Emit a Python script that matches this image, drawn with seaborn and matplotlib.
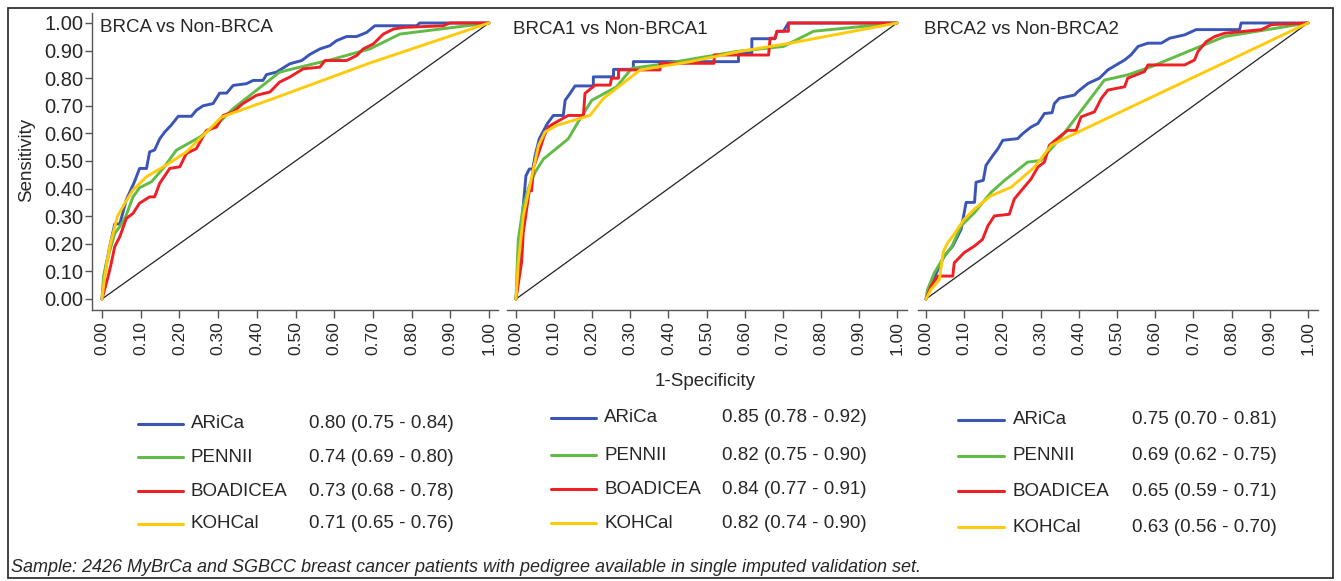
import matplotlib
matplotlib.use("Agg")
import matplotlib.pyplot as plt
from matplotlib.lines import Line2D
from matplotlib.patches import Rectangle
import seaborn as sns
import pandas as pd
import numpy as np

# ---------------- data ----------------
MODELS = ["ARiCa", "PENNII", "BOADICEA", "KOHCal"]
COLORS = ["#3a55b6", "#62bb46", "#ee2026", "#fdcb0c"]
PANEL_TITLES = ["BRCA vs Non-BRCA", "BRCA1 vs Non-BRCA1", "BRCA2 vs Non-BRCA2"]
TICKS = [0.0, 0.1, 0.2, 0.3, 0.4, 0.5, 0.6, 0.7, 0.8, 0.9, 1.0]
TICK_LABELS = ["0.00", "0.10", "0.20", "0.30", "0.40", "0.50", "0.60", "0.70", "0.80", "0.90", "1.00"]
DIAG = [0.0, 1.0]

AUC_P1 = ["0.80 (0.75 - 0.84)", "0.74 (0.69 - 0.80)", "0.73 (0.68 - 0.78)", "0.71 (0.65 - 0.76)"]
AUC_P2 = ["0.85 (0.78 - 0.92)", "0.82 (0.75 - 0.90)", "0.84 (0.77 - 0.91)", "0.82 (0.74 - 0.90)"]
AUC_P3 = ["0.75 (0.70 - 0.81)", "0.69 (0.62 - 0.75)", "0.65 (0.59 - 0.71)", "0.63 (0.56 - 0.70)"]

FOOTNOTE = "Sample: 2426 MyBrCa and SGBCC breast cancer patients with pedigree available in single imputed validation set."

# Panel 1: BRCA vs Non-BRCA
P1_ARICA_FPR = [0, .008, .020, .033, .046, .063, .084, .097, .115, .123, .136, .149, .162, .179, .197, .231, .244, .261, .287, .304, .322, .339, .373, .391, .416, .425, .451, .485, .516, .537, .563, .589, .606, .632, .658, .684, .705, .813, .821, 1]
P1_ARICA_TPR = [0, .100, .190, .272, .272, .360, .425, .473, .473, .533, .540, .580, .605, .630, .662, .662, .684, .700, .708, .746, .746, .774, .780, .792, .792, .813, .822, .852, .864, .886, .906, .918, .936, .951, .951, .966, .990, .990, 1.0, 1]
P1_PENN_FPR = [0, .004, .011, .033, .046, .061, .080, .097, .128, .158, .192, .253, .304, .339, .399, .459, .511, .589, .692, .770, 1]
P1_PENN_TPR = [0, .082, .130, .238, .262, .298, .370, .403, .425, .473, .539, .587, .641, .690, .756, .822, .840, .866, .906, .960, 1]
P1_BOAD_FPR = [0, .016, .024, .033, .046, .063, .080, .097, .123, .136, .149, .175, .201, .218, .244, .270, .296, .313, .339, .364, .399, .434, .459, .485, .520, .563, .576, .632, .658, .675, .701, .727, .753, .779, .882, .899, 1]
P1_BOAD_TPR = [0, .082, .130, .190, .226, .292, .310, .347, .370, .370, .419, .473, .479, .527, .545, .611, .623, .665, .678, .708, .738, .750, .786, .804, .834, .840, .864, .864, .882, .906, .924, .960, .978, .984, .990, 1.0, 1]
P1_KOH_FPR = [0, .007, .020, .040, .059, .080, .115, .166, .218, .270, .309, .450, .692, 1]
P1_KOH_TPR = [0, .082, .190, .300, .347, .395, .443, .485, .533, .605, .659, .730, .855, 1]

# Panel 2: BRCA1 vs Non-BRCA1
P2_ARICA_FPR = [0, .0105, .019, .026, .035, .044, .050, .061, .082, .098, .124, .129, .142, .155, .203, .203, .256, .256, .308, .308, .584, .584, .619, .619, .680, .685, .702, .715, 1]
P2_ARICA_TPR = [0, .167, .337, .446, .471, .471, .519, .580, .635, .665, .665, .720, .745, .772, .772, .805, .805, .832, .832, .860, .860, .891, .891, .943, .943, .970, .970, 1.0, 1]
P2_PENN_FPR = [0, .002, .006, .019, .035, .050, .072, .137, .163, .199, .264, .304, .370, .580, .702, .781, 1]
P2_PENN_TPR = [0, .080, .215, .337, .410, .459, .507, .580, .641, .720, .769, .836, .848, .897, .915, .970, 1]
P2_BOAD_FPR = [0, .015, .019, .026, .035, .041, .046, .063, .074, .085, .098, .137, .177, .181, .208, .247, .251, .269, .269, .378, .378, .520, .520, .663, .667, .680, .685, .715, .715, 1]
P2_BOAD_TPR = [0, .136, .240, .307, .392, .392, .477, .544, .592, .623, .635, .665, .665, .745, .775, .775, .800, .800, .830, .830, .854, .854, .884, .884, .945, .945, .970, .970, 1.0, 1]
P2_KOH_FPR = [0, .006, .019, .059, .076, .107, .194, .229, .326, .457, .588, .720, 1]
P2_KOH_TPR = [0, .130, .300, .556, .605, .629, .665, .726, .830, .860, .897, .927, 1]

# Panel 3: BRCA2 vs Non-BRCA2
P3_ARICA_FPR = [0, .009, .031, .048, .070, .092, .105, .127, .131, .150, .157, .175, .188, .201, .240, .253, .275, .293, .310, .330, .336, .349, .389, .397, .424, .454, .476, .498, .520, .537, .555, .581, .616, .638, .677, .707, .821, .825, 1]
P3_ARICA_TPR = [0, .034, .107, .156, .192, .253, .350, .350, .423, .430, .484, .520, .544, .575, .581, .599, .623, .636, .672, .675, .708, .727, .739, .751, .781, .800, .830, .848, .866, .885, .915, .927, .927, .945, .957, .976, .976, 1.0, 1]
P3_PENN_FPR = [0, .004, .022, .048, .066, .092, .127, .170, .205, .266, .301, .354, .467, .528, .590, .686, .782, 1]
P3_PENN_TPR = [0, .034, .095, .156, .186, .265, .313, .386, .429, .496, .502, .587, .793, .812, .842, .897, .951, 1]
P3_BOAD_FPR = [0, .013, .031, .070, .074, .100, .127, .148, .162, .179, .218, .231, .249, .275, .293, .310, .323, .354, .371, .393, .406, .441, .459, .476, .520, .528, .572, .581, .677, .703, .712, .734, .756, .782, .878, .904, 1]
P3_BOAD_TPR = [0, .046, .083, .083, .131, .168, .192, .216, .265, .301, .307, .362, .392, .435, .478, .496, .557, .593, .611, .611, .660, .678, .727, .757, .769, .800, .824, .848, .848, .866, .897, .933, .951, .963, .976, .994, 1]
P3_KOH_FPR = [0, .013, .035, .045, .055, .070, .100, .127, .170, .223, .284, .328, .371, 1]
P3_KOH_TPR = [0, .034, .070, .170, .200, .228, .289, .326, .374, .405, .478, .557, .587, 1]

PANELS = [
    [(P1_ARICA_FPR, P1_ARICA_TPR), (P1_PENN_FPR, P1_PENN_TPR), (P1_BOAD_FPR, P1_BOAD_TPR), (P1_KOH_FPR, P1_KOH_TPR)],
    [(P2_ARICA_FPR, P2_ARICA_TPR), (P2_PENN_FPR, P2_PENN_TPR), (P2_BOAD_FPR, P2_BOAD_TPR), (P2_KOH_FPR, P2_KOH_TPR)],
    [(P3_ARICA_FPR, P3_ARICA_TPR), (P3_PENN_FPR, P3_PENN_TPR), (P3_BOAD_FPR, P3_BOAD_TPR), (P3_KOH_FPR, P3_KOH_TPR)],
]
AUCS = [AUC_P1, AUC_P2, AUC_P3]

# ---------------- layout (pixels) ----------------
W, H = 1341, 581
sns.set_style("white")
plt.rcParams["font.family"] = ["Liberation Sans", "DejaVu Sans"]

fig = plt.figure(figsize=(W / 100, H / 100), dpi=100)

def fx(px):
    return px / W

def fy(py):
    return 1 - py / H

# (x pixel of 0, x pixel of 1, spine start, spine end)
XGEOM = [(102, 489, 92, 498), (516, 897, 507, 907), (926, 1308, 918, 1318)]
Y0, Y1, YTOP, YBOT = 299, 23, 13, 310
TITLE_POS = [(100, 27), (513, 29), (924, 29)]
LEG = [
    dict(l0=138, l1=183, name=191, auc=309, rows=[424, 457, 491, 524]),
    dict(l0=551, l1=596, name=604, auc=722, rows=[418, 455, 489, 523]),
    dict(l0=958, l1=1004, name=1013, auc=1132, rows=[420, 456, 491, 527]),
]
SPINE_C = "#555555"
FS = 13.5

for i, (x0, x1, s0, s1) in enumerate(XGEOM):
    ax = fig.add_axes([fx(s0), fy(YBOT), (s1 - s0) / W, (YBOT - YTOP) / H])
    sx = x1 - x0
    sy = Y0 - Y1
    ax.set_xlim((s0 - x0) / sx, 1 + (s1 - x1) / sx)
    ax.set_ylim(-(YBOT - Y0) / sy, 1 + (Y1 - YTOP) / sy)

    sns.lineplot(x=DIAG, y=DIAG, ax=ax, color="#222222", linewidth=0.9)
    frames = []
    for m, (fpr, tpr) in zip(MODELS, PANELS[i]):
        frames.append(pd.DataFrame({"fpr": fpr, "tpr": tpr, "model": m}))
    df = pd.concat(frames, ignore_index=True)
    sns.lineplot(data=df, x="fpr", y="tpr", hue="model", hue_order=MODELS,
                 palette=COLORS, sort=False, estimator=None, linewidth=2.1,
                 legend=False, ax=ax)

    ax.set_xlabel("")
    ax.set_ylabel("")
    for sp in ["top", "right"]:
        ax.spines[sp].set_visible(False)
    ax.spines["bottom"].set_color(SPINE_C)
    ax.spines["bottom"].set_linewidth(1.0)
    ax.set_xticks(TICKS)
    ax.set_xticklabels(TICK_LABELS, rotation=90, fontsize=12.5)
    ax.tick_params(axis="x", bottom=True, length=6, width=1, color=SPINE_C, pad=2)
    if i == 0:
        ax.spines["left"].set_color(SPINE_C)
        ax.spines["left"].set_linewidth(1.0)
        ax.set_yticks(TICKS)
        ax.set_yticklabels(TICK_LABELS, fontsize=14.5)
        ax.tick_params(axis="y", left=True, length=5, width=1, color=SPINE_C, pad=1)
    else:
        ax.spines["left"].set_visible(False)
        ax.set_yticks([])
    ax.patch.set_alpha(0)

    tx, ty = TITLE_POS[i]
    fig.text(fx(tx), fy(ty), PANEL_TITLES[i], fontsize=FS, ha="left", va="center")

    lg = LEG[i]
    for j, m in enumerate(MODELS):
        r = lg["rows"][j]
        fig.add_artist(Line2D([fx(lg["l0"]), fx(lg["l1"])], [fy(r), fy(r)],
                              color=COLORS[j], linewidth=2.2, transform=fig.transFigure))
        fig.text(fx(lg["name"]), fy(r), m, fontsize=FS, ha="left", va="center")
        fig.text(fx(lg["auc"]), fy(r), AUCS[i][j], fontsize=FS, ha="left", va="center")

fig.text(fx(27), fy(160), "Sensitivity", fontsize=FS, rotation=90, ha="center", va="center")
fig.text(fx(705), fy(381), "1-Specificity", fontsize=FS, ha="center", va="center")
fig.text(fx(11), fy(568), FOOTNOTE, fontsize=13.0, style="italic", ha="left", va="center")

fig.add_artist(Rectangle((fx(8), fy(578)), (1333 - 8) / W, (578 - 8) / H,
                         transform=fig.transFigure, fill=False, edgecolor="#333333", linewidth=1.3))

fig.savefig("out.png", dpi=100)
